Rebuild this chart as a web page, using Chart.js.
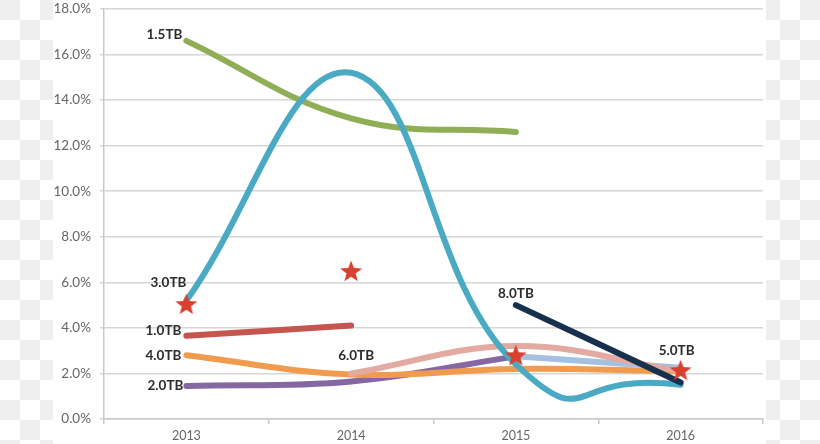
<!DOCTYPE html>
<html>
<head>
<meta charset="utf-8">
<script src="https://cdn.jsdelivr.net/npm/chart.js@4"></script>
<style>
  html, body { margin: 0; padding: 0; }
  body {
    width: 820px; height: 444px; overflow: hidden; position: relative;
    background-image: conic-gradient(#fff 0 25%, #efefef 0 50%, #fff 0 75%, #efefef 0);
    background-size: 40px 40px;
  }
  #card { position: absolute; left: 53px; top: 0; width: 713px; height: 444px; background: #fff; }
  #chart { position: absolute; left: 0; top: -4px; }
</style>
</head>
<body>
<div id="card"></div>
<canvas id="chart" width="820" height="444"></canvas>
<script>
// Categories and tick labels
const years = ['2013', '2014', '2015', '2016'];
const yTickLabels = ['0.0%', '2.0%', '4.0%', '6.0%', '8.0%', '10.0%', '12.0%', '14.0%', '16.0%', '18.0%'];

// Series values (% per year)
const tb15 = [16.6, 13.2, 12.6, null];
const tb30 = [5.2, 15.2, 2.4, 1.5];
const tb10 = [3.65, 4.1, null, null];
const tb40 = [2.8, 1.95, 2.2, 2.1];
const tb20 = [1.45, 1.65, 2.75, null];
const tb60 = [null, 2.0, 3.2, 2.1];
const tb50 = [null, null, 2.75, 2.25];
const tb80 = [null, null, 5.0, 1.6];
const stars = [5.05, 6.5, 2.8, 2.15];

// Label names for the series
const seriesNames = ['1.5TB', '3.0TB', '1.0TB', '4.0TB', '2.0TB', '6.0TB', '5.0TB', '8.0TB'];

document.addEventListener('DOMContentLoaded', function() {
    // filled 5-point star used as point style
    const starImg = document.createElement('canvas');
    starImg.width = 24;
    starImg.height = 24;
    const sctx = starImg.getContext('2d');
    sctx.fillStyle = '#d8402f';
    sctx.beginPath();
    for (let i = 0; i < 10; i++) {
        const r = i % 2 === 0 ? 11.5 : 4.8;
        const a = -Math.PI / 2 + i * Math.PI / 5;
        const px = 12 + r * Math.cos(a);
        const py = 13 + r * Math.sin(a);
        if (i === 0) sctx.moveTo(px, py); else sctx.lineTo(px, py);
    }
    sctx.closePath();
    sctx.fill();

    const teal = '#4aaac4';

    function line(label, data, color, order, extra) {
        return Object.assign({
            label: label,
            data: data,
            borderColor: color,
            borderWidth: 6,
            borderCapStyle: 'round',
            borderJoinStyle: 'round',
            pointRadius: 0,
            pointHoverRadius: 0,
            tension: 0.4,
            fill: false,
            order: order
        }, extra || {});
    }

    // label placement: [series name, dataset index, data index, dx, dy, align]
    const labelPos = [
        ['1.5TB', 0, 0, -4, -6, 'right'],
        ['3.0TB', 1, 0, 0, -18, 'right'],
        ['1.0TB', 3, 0, -5, -5, 'right'],
        ['4.0TB', 4, 0, -5, 0, 'right'],
        ['2.0TB', 5, 0, -3, 0, 'right'],
        ['6.0TB', 6, 1, 5, -18, 'center'],
        ['5.0TB', 7, 3, -4, -17, 'center'],
        ['8.0TB', 8, 2, 0, -11, 'center']
    ];

    const seriesLabels = {
        id: 'seriesLabels',
        afterDatasetsDraw(chart) {
            const c = chart.ctx;
            c.save();
            c.font = 'bold 13.5px Lato';
            c.fillStyle = '#2b2b2b';
            c.textBaseline = 'middle';
            labelPos.forEach(function(p) {
                const ds = chart.data.datasets[p[1]];
                const x = chart.scales.x.getPixelForValue(p[2]);
                const y = chart.scales.y.getPixelForValue(ds.data[p[2]]);
                c.textAlign = p[5];
                c.fillText(p[0], x + p[3], y + p[4]);
            });
            c.restore();
        }
    };

    new Chart(document.getElementById('chart').getContext('2d'), {
        type: 'line',
        data: {
            labels: years,
            datasets: [
                line(seriesNames[0], tb15, '#8fae55', 6),
                // 3.0TB: first two segments
                line(seriesNames[1], tb30, teal, 3, {
                    segment: { borderColor: ctx => ctx.p0DataIndex >= 2 ? 'rgba(0,0,0,0)' : teal }
                }),
                // 3.0TB: last segment, looser curve
                line(seriesNames[1], tb30, teal, 3, {
                    tension: 0.7,
                    capBezierPoints: false,
                    segment: { borderColor: ctx => ctx.p0DataIndex < 2 ? 'rgba(0,0,0,0)' : teal }
                }),
                line(seriesNames[2], tb10, '#c4554f', 7),
                line(seriesNames[3], tb40, '#f09b4e', 9),
                line(seriesNames[4], tb20, '#8467a3', 10),
                line(seriesNames[5], tb60, '#e3aaa2', 5),
                line(seriesNames[6], tb50, '#a6c1e0', 8),
                line(seriesNames[7], tb80, '#17304d', 2),
                {
                    label: 'stars',
                    data: stars,
                    showLine: false,
                    pointStyle: starImg,
                    pointRadius: 12,
                    pointHoverRadius: 12,
                    order: 0
                }
            ]
        },
        options: {
            responsive: false,
            animation: false,
            events: [],
            layout: { padding: { left: 0, right: 57, top: 4, bottom: 0 } },
            plugins: {
                legend: { display: false },
                tooltip: { enabled: false }
            },
            scales: {
                x: {
                    offset: true,
                    grid: {
                        drawOnChartArea: false,
                        drawTicks: true,
                        tickLength: 5,
                        color: '#c9c9c9',
                        lineWidth: 1.5,
                        offset: true
                    },
                    border: { color: '#c9c9c9', width: 1.5 },
                    ticks: {
                        color: '#666',
                        font: { family: 'Lato', size: 12.5 },
                        padding: 4,
                        maxRotation: 0
                    },
                    afterFit: function(scale) { scale.height = 21; }
                },
                y: {
                    min: 0,
                    max: 18,
                    ticks: {
                        stepSize: 2,
                        color: '#666',
                        font: { family: 'Lato', size: 13.5 },
                        padding: 9,
                        callback: function(value, index) { return yTickLabels[index]; }
                    },
                    grid: {
                        color: '#d6d6d6',
                        lineWidth: 1.5,
                        tickLength: 4
                    },
                    border: { color: '#c9c9c9', width: 1.5 },
                    afterFit: function(scale) {
                        scale.width = 104;
                        scale.paddingTop = 0;
                        scale.paddingBottom = 0;
                    }
                }
            }
        },
        plugins: [seriesLabels]
    });
});
</script>
</body>
</html>
